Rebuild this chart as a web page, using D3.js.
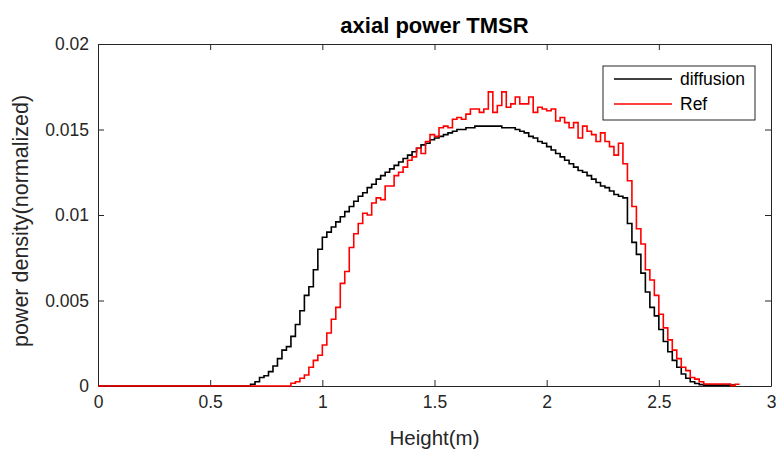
<!DOCTYPE html>
<html><head><meta charset="utf-8">
<script src="https://cdn.jsdelivr.net/npm/d3@7/dist/d3.min.js"></script>
<style>
html,body{margin:0;padding:0;background:#fff;}
svg{display:block;font-family:"Liberation Sans",Arial,Helvetica,sans-serif;}
</style></head>
<body><svg id="chart" width="779" height="450"></svg>
<script>
// ---- data ----
const binWidth = 0.02; // m
const diffusionStart = 0.68;
const diffusionValues = [
 0.0001,0.00025,0.0005,0.0006,0.00084,0.00117,0.0016,0.0021,0.0023,0.0029,
 0.0036,0.0044,0.0053,0.0058,0.0068,0.0080,
 0.0087,0.0090,0.0093,0.0096,0.0099,0.0102,0.0105,0.0108,0.0111,0.0113,
 0.0116,0.0118,0.0121,0.0123,0.0125,0.0127,0.0129,0.0131,0.0133,0.0135,
 0.0137,0.0139,0.0141,0.0142,0.0144,0.0145,0.0146,0.0147,0.0148,0.0149,
 0.0150,0.0150,0.0151,0.0151,0.0152,0.0152,0.0152,0.0152,0.0152,0.0152,
 0.0151,0.0151,0.0151,0.0150,0.0149,0.0148,0.0146,0.0145,0.0143,0.0142,
 0.0140,0.0138,0.0136,0.0134,0.0132,0.0130,0.0128,0.0126,0.0125,0.0123,
 0.0121,0.0119,0.0117,0.0116,0.0114,0.0112,0.0111,0.0110,
 0.0095,0.0084,0.0077,0.0066,0.0055,0.0046,0.0041,0.0033,0.0026,0.0020,
 0.0015,0.0011,0.0007,0.00045,0.00025,0.00015,0.00008,
 0.00005,0.00005,0.00005,0.00005,0.00005,0.00005,0.00005
];
const refStart = 0.86;
const refValues = [
 0.00016,0.00025,0.00045,0.00064,0.0011,0.0015,0.0018,
 0.0024,0.0031,0.0039,0.0046,0.0060,0.0067,0.0081,0.0089,0.0095,0.0101,
 0.0100,0.0107,0.0110,0.0109,0.0117,0.0117,0.0123,0.0125,0.0128,0.0132,
 0.0134,0.0139,0.0136,0.0143,0.0147,0.0146,0.0151,0.0152,0.0151,0.0156,
 0.0157,0.0156,0.0159,0.0162,0.0162,0.0160,0.0162,0.0172,0.0160,0.0164,
 0.0172,0.0163,0.0165,0.0169,0.0165,0.0165,0.0169,0.0160,0.0163,0.0162,
 0.0161,0.0162,0.0155,0.0157,0.0154,0.0151,0.0154,0.0145,0.0152,0.0149,
 0.0147,0.0143,0.0148,0.0143,0.0140,0.0135,0.0142,0.0130,
 0.0120,0.0105,0.0092,0.0083,0.0068,0.0062,0.0053,0.0042,0.0034,0.0027,
 0.0021,0.0016,0.0011,0.0009,0.0005,0.0004,0.00025,
 0.00012,0.00012,0.00012,0.00012,0.00012,0.00012,0.00002,0.0001
];
const xTicks = [0,0.5,1,1.5,2,2.5,3];
const xTickLabels = ["0","0.5","1","1.5","2","2.5","3"];
const yTicks = [0,0.005,0.01,0.015,0.02];
const yTickLabels = ["0","0.005","0.01","0.015","0.02"];
const seriesNames = ["diffusion","Ref"];
const seriesColors = ["#000000","#ff0000"];

// ---- layout ----
const svg = d3.select("#chart");
const L = 98, R = 771, T = 44, B = 386;
const axisColor = "#262626";
const x = d3.scaleLinear().domain([0,3]).range([L,R]);
const y = d3.scaleLinear().domain([0,0.02]).range([B,T]);

function toPoints(start, vals){
  const pts = [{z:0, v:0}];
  vals.forEach((v,i)=>pts.push({z:start+i*binWidth, v}));
  pts.push({z:start+vals.length*binWidth, v:vals[vals.length-1]});
  return pts;
}
const line = d3.line().x(d=>x(d.z)).y(d=>y(d.v)).curve(d3.curveStepAfter);

svg.append("rect").attr("x",L).attr("y",T).attr("width",R-L).attr("height",B-T)
  .attr("fill","#fff").attr("stroke","none");

// axes
const tickLen = 6;
const fmtX = (d,i)=>xTickLabels[i];
const fmtY = (d,i)=>yTickLabels[i];
const gB = svg.append("g").attr("transform",`translate(0,${B})`)
  .call(d3.axisBottom(x).tickValues(xTicks).tickFormat(fmtX).tickSizeInner(-tickLen).tickSizeOuter(0).tickPadding(10));
const gT = svg.append("g").attr("transform",`translate(0,${T})`)
  .call(d3.axisTop(x).tickValues(xTicks).tickFormat("").tickSizeInner(-tickLen).tickSizeOuter(0));
const gL = svg.append("g").attr("transform",`translate(${L},0)`)
  .call(d3.axisLeft(y).tickValues(yTicks).tickFormat(fmtY).tickSizeInner(-tickLen).tickSizeOuter(0).tickPadding(9));
const gR = svg.append("g").attr("transform",`translate(${R},0)`)
  .call(d3.axisRight(y).tickValues(yTicks).tickFormat("").tickSizeInner(-tickLen).tickSizeOuter(0));
[gB,gT,gL,gR].forEach(g=>{
  g.selectAll(".domain").attr("stroke",axisColor).attr("stroke-width",1);
  g.selectAll(".tick line").attr("stroke",axisColor).attr("stroke-width",1);
  g.selectAll(".tick text").attr("fill",axisColor).style("font-size","17.5px");
});
gB.selectAll(".tick text").attr("dy","0.71em");

// series
const series = [toPoints(diffusionStart, diffusionValues), toPoints(refStart, refValues)];
series.forEach((pts,i)=>{
  svg.append("path").datum(pts).attr("d",line).attr("fill","none")
    .attr("stroke",seriesColors[i]).attr("stroke-width",1.6).attr("stroke-linejoin","miter");
});

// title and labels
svg.append("text").attr("x",(L+R)/2).attr("y",33).attr("text-anchor","middle")
  .attr("font-weight","bold").style("font-size","22px").attr("fill","#000").text("axial power TMSR");
svg.append("text").attr("x",(L+R)/2).attr("y",445).attr("text-anchor","middle")
  .style("font-size","20.5px").attr("fill",axisColor).text("Height(m)");
svg.append("text").attr("transform",`translate(28,${(T+B)/2+6}) rotate(-90)`).attr("text-anchor","middle")
  .style("font-size","21.5px").attr("fill",axisColor).text("power density(normalized)");

// legend
const lg = svg.append("g");
lg.append("rect").attr("x",603).attr("y",66).attr("width",152).attr("height",54)
  .attr("fill","#fff").attr("stroke",axisColor).attr("stroke-width",1);
seriesNames.forEach((n,i)=>{
  const yy = 79 + i*25;
  lg.append("line").attr("x1",614).attr("x2",672).attr("y1",yy).attr("y2",yy)
    .attr("stroke",seriesColors[i]).attr("stroke-width",1.6);
  lg.append("text").attr("x",680).attr("y",yy).attr("dy","0.35em")
    .style("font-size","17.5px").attr("fill","#000").text(n);
});
</script></body></html>
